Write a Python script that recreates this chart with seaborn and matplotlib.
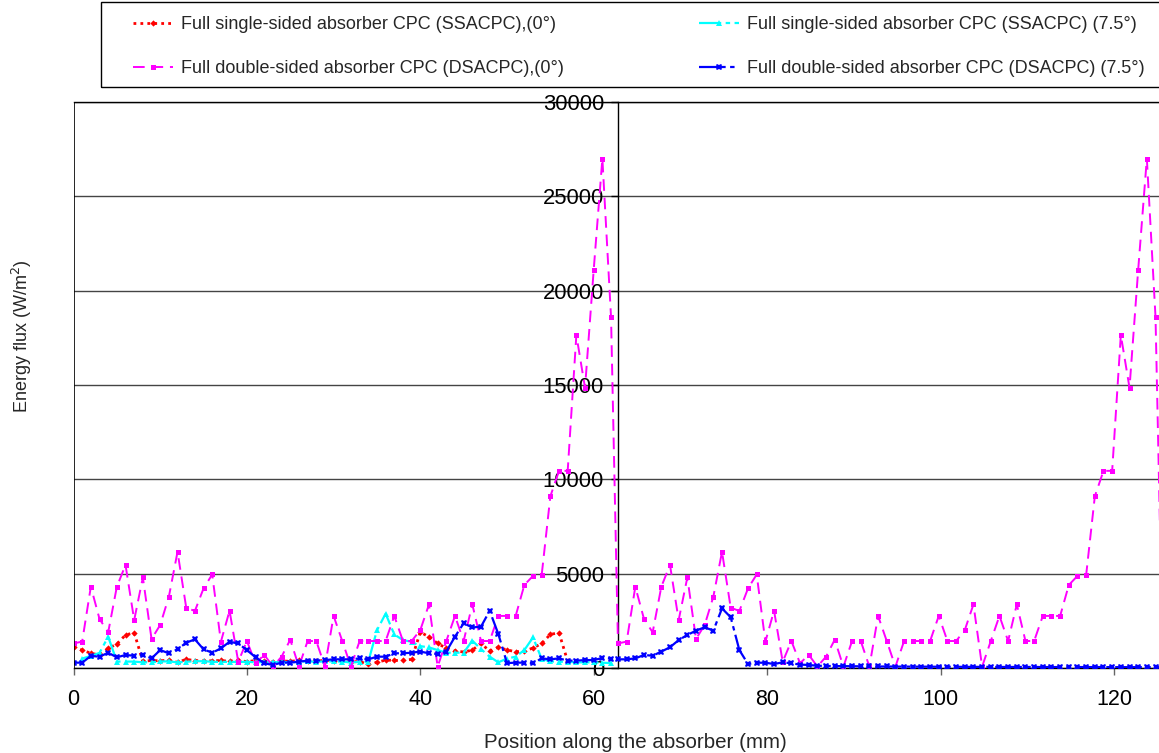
import numpy as np
import pandas as pd
import matplotlib
matplotlib.use("Agg")
import matplotlib.pyplot as plt
from matplotlib.patches import Rectangle
import seaborn as sns

# ---------------- data ----------------
half_period = 62.8
pos_half = list(range(63))  # 0..62 mm on each side

dsa0_half = [1300, 1400, 4310, 2600, 1890, 4310, 5460, 2540, 4800, 1540,
             2280, 3780, 6160, 3200, 3020, 4220, 4960, 1390, 3040, 330,
             1430, 250, 700, 80, 600, 1500, 70, 1430, 1430, 70,
             2760, 1430, 70, 1430, 1430, 1430, 1430, 2760, 1430, 1430,
             2010, 3370, 70, 1430, 2760, 1430, 3370, 1430, 1430, 2760,
             2760, 2760, 4400, 4880, 4930, 9100, 10450, 10450, 17650, 14850,
             21100, 27000, 18600]

dsa75_side1 = [283, 283, 640, 600, 810, 565, 690, 650, 690, 510,
               950, 780, 990, 1340, 1520, 990, 810, 1040, 1390, 1300,
               950, 565, 250, 160, 283, 283, 336, 390, 390, 420,
               460, 460, 460, 510, 460, 600, 600, 780, 780, 810,
               870, 780, 740, 870, 1660, 2370, 2150, 2190, 3030, 1800,
               260, 283, 283, 250, 510, 460, 510, 390, 390, 420,
               420, 530, 500]
dsa75_side2 = [460, 460, 510, 690, 650, 870, 1100, 1480, 1750, 1980,
               2160, 1980, 3160, 2690, 950, 210, 280, 280, 210, 300,
               250, 180, 160, 120, 110, 100, 100, 95, 90, 85,
               80, 80, 75, 75, 70, 70, 70, 65, 65, 65,
               60, 60, 60, 60, 55, 55, 55, 55, 55, 50,
               50, 50, 50, 50, 50, 50, 50, 45, 45, 45,
               45, 45, 45]

ssa0_pos = list(range(58))
ssa0_vals = [1100, 950, 780, 690, 1040, 1270, 1750, 1870, 350, 400,
             380, 420, 300, 460, 390, 390, 380, 400, 350, 420,
             330, 400, 350, 330, 380, 350, 400, 380, 350, 420,
             380, 360, 330, 340, 200, 300, 420, 400, 400, 460,
             1900, 1650, 1300, 1050, 900, 850, 950, 1300, 900, 1100,
             960, 860, 900, 1060, 1300, 1780, 1870, 350]

ssa75_pos = list(range(1, 63))
ssa75_vals = [500, 640, 800, 1660, 340, 340, 340, 300, 300, 350,
              350, 300, 330, 360, 360, 330, 320, 330, 320, 330,
              300, 320, 300, 320, 300, 330, 350, 330, 350, 350,
              340, 290, 330, 330, 2000, 2880, 1780, 1480, 1390, 1160,
              1090, 950, 810, 810, 810, 1450, 1000, 600, 300, 500,
              600, 950, 1620, 480, 350, 330, 330, 300, 300, 300,
              280, 260]

labels = ["Full single-sided absorber CPC (SSACPC),(0°)",
          "Full double-sided absorber CPC (DSACPC),(0°)",
          "Full single-sided absorber CPC (SSACPC) (7.5°)",
          "Full double-sided absorber CPC (DSACPC) (7.5°)"]
x_ticks = [0, 20, 40, 60, 80, 100, 120]
y_ticks = [0, 5000, 10000, 15000, 20000, 25000, 30000]

# ---------------- build frames ----------------
pos_full = [p for p in pos_half] + [half_period + p for p in pos_half] + [2 * half_period]
dsa0 = pd.DataFrame({"x": pos_full, "y": dsa0_half + dsa0_half + [dsa0_half[0]]})
dsa75 = pd.DataFrame({"x": pos_full, "y": dsa75_side1 + dsa75_side2 + [dsa75_side2[-1]]})
ssa0 = pd.DataFrame({"x": ssa0_pos, "y": ssa0_vals})
ssa75 = pd.DataFrame({"x": ssa75_pos, "y": ssa75_vals})

# ---------------- plot ----------------
sns.set_theme(style="white")
plt.rcParams["font.family"] = ["Liberation Sans", "DejaVu Sans"]

W, H = 1159, 753
fig = plt.figure(figsize=(W / 100, H / 100), dpi=100)
ax = fig.add_axes([73.5 / W, 1 - 668 / H, 1 - 73.5 / W, (668 - 102) / H])

sns.lineplot(data=ssa0, x="x", y="y", ax=ax, color="#FF0000", linestyle=(0, (1, 1.5)),
             lw=2, marker="D", markersize=3.2, markeredgewidth=0, label=labels[0], zorder=3)
sns.lineplot(data=dsa0, x="x", y="y", ax=ax, color="#FF00FF", linestyle=(0, (6, 3.5)),
             lw=1.4, marker="s", markersize=3.6, markeredgewidth=0, label=labels[1], zorder=4)
sns.lineplot(data=ssa75, x="x", y="y", ax=ax, color="#00FFFF", linestyle=(0, (10, 2, 2, 2)),
             lw=1.6, marker="^", markersize=3.8, markeredgewidth=0, label=labels[2], zorder=3)
sns.lineplot(data=dsa75, x="x", y="y", ax=ax, color="#0000FF", linestyle=(0, (12, 2, 2, 2)),
             lw=1.6, marker="X", markersize=4.5, markeredgewidth=0, label=labels[3], zorder=5)

ax.spines["left"].set_position(("data", half_period))
ax.spines["left"].set_color("black")
ax.spines["left"].set_linewidth(1.0)
ax.spines["bottom"].set_color("black")
ax.spines["bottom"].set_linewidth(1.0)
ax.spines["top"].set_color("black")
ax.spines["top"].set_linewidth(1.0)
ax.spines["right"].set_visible(False)
ax.axvline(0, color="black", lw=1.2, zorder=6)

ax.set_xlim(0, (W - 73.5) / 8.67)
ax.set_ylim(0, 30000)
ax.set_xticks(x_ticks)
ax.set_yticks(y_ticks)
ax.set_xticklabels([str(v) for v in x_ticks])
ax.set_yticklabels([str(v) for v in y_ticks])
ax.set_xlabel("")
ax.set_ylabel("")

ax.yaxis.grid(True, color="#444444", lw=1.0)
ax.set_axisbelow(True)
ax.tick_params(axis="y", direction="out", length=5, width=1, color="black", pad=5,
               left=True, labelsize=15.8, labelcolor="black")
ax.tick_params(axis="x", direction="out", length=5, width=1, color="#666666", pad=10,
               bottom=True, labelsize=15.5, labelcolor="black")

fig.text(22 / W, 1 - 336 / H, "Energy flux (W/m$^2$)", rotation=90, ha="center", va="center",
         fontsize=13)
fig.text(635 / W, 1 - 742 / H, "Position along the absorber (mm)", ha="center", va="center",
         fontsize=14.8)

ax.get_legend().remove()
handles, labs = ax.get_legend_handles_labels()
fig.patches.append(Rectangle((101 / W, 1 - 87 / H), (W + 5 - 101) / W, (87 - 2) / H,
                             transform=fig.transFigure, fill=False, edgecolor="black",
                             lw=1.0, clip_on=False))
leg = fig.legend(handles, labs, loc="upper left", bbox_to_anchor=(133 / W, 1 - 16 / H),
                 ncol=2, fontsize=13.0, frameon=False,
                 handlelength=2.2, handletextpad=0.45, columnspacing=7.5, labelspacing=1.5,
                 borderpad=0.0, borderaxespad=0)

fig.savefig("out.png", dpi=100)
